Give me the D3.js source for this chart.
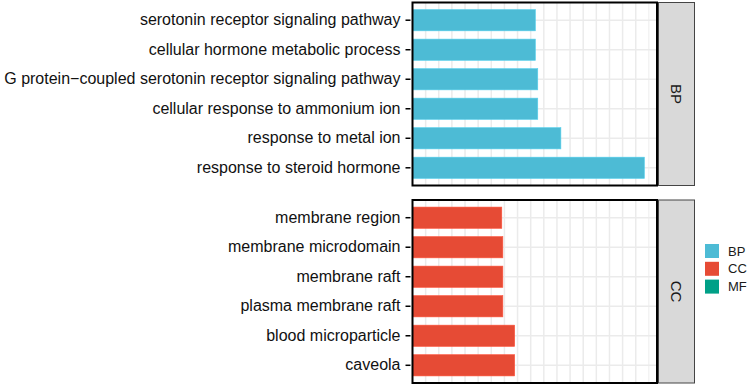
<!DOCTYPE html>
<html>
<head>
<meta charset="utf-8">
<script src="https://cdn.jsdelivr.net/npm/d3@7"></script>
<style>
  body { margin: 0; background: #fff; }
  svg text { font-family: "Liberation Sans", Arial, sans-serif; }
</style>
</head>
<body>
<div id="chart"></div>
<script>
// terms, top to bottom in each facet
let bpTerms = [
    "serotonin receptor signaling pathway",
    "cellular hormone metabolic process",
    "G protein\u2212coupled serotonin receptor signaling pathway",
    "cellular response to ammonium ion",
    "response to metal ion",
    "response to steroid hormone"
];
let bpValues = [4.68, 4.68, 4.77, 4.77, 5.65, 8.83];

let ccTerms = [
    "membrane region",
    "membrane microdomain",
    "membrane raft",
    "plasma membrane raft",
    "blood microparticle",
    "caveola"
];
let ccValues = [3.40, 3.44, 3.44, 3.44, 3.89, 3.89];

let ontologies = ["BP", "CC", "MF"];
let ontologyColors = ["#4DBBD5", "#E64B35", "#00A087"];

let width = 748, height = 386;

let svg = d3.select("#chart").append("svg")
    .attr("width", width)
    .attr("height", height);

// shared x scale
let x = d3.scaleLinear().domain([0, 9.31]).range([412.5, 657]);
let color = d3.scaleOrdinal().domain(ontologies).range(ontologyColors);

let facets = [
    {name: "BP", terms: bpTerms, values: bpValues, top: 2.5, bottom: 185.5},
    {name: "CC", terms: ccTerms, values: ccValues, top: 200, bottom: 383}
];

facets.forEach(f => {
    let y = d3.scaleBand()
        .domain(f.terms)
        .range([f.top, f.bottom])
        .paddingOuter(0.1)
        .paddingInner(0);
    let g = svg.append("g");

    // vertical grid
    let grid = d3.range(0.5, 9.31, 0.5);
    g.selectAll(".vgrid")
        .data(grid)
        .enter().append("line")
        .attr("x1", d => x(d)).attr("x2", d => x(d))
        .attr("y1", f.top).attr("y2", f.bottom)
        .attr("stroke", "#EBEBEB")
        .attr("stroke-width", (d, i) => i === grid.length - 1 ? 0.9 : 1.5);

    // horizontal grid at categories
    g.selectAll(".hgrid")
        .data(f.terms)
        .enter().append("line")
        .attr("x1", x.range()[0]).attr("x2", x.range()[1])
        .attr("y1", d => y(d) + y.bandwidth() / 2)
        .attr("y2", d => y(d) + y.bandwidth() / 2)
        .attr("stroke", "#EBEBEB")
        .attr("stroke-width", 1.6);

    // bars
    let bw = y.bandwidth() * 0.72;
    g.selectAll(".bar")
        .data(f.terms)
        .enter().append("rect")
        .attr("x", x(0))
        .attr("y", d => y(d) + (y.bandwidth() - bw) / 2)
        .attr("width", (d, i) => x(f.values[i]) - x(0))
        .attr("height", bw)
        .attr("fill", color(f.name))
        .attr("stroke", d3.color(color(f.name)).brighter(0.3))
        .attr("stroke-width", 0.6);

    // panel border
    g.append("rect")
        .attr("x", x.range()[0]).attr("y", f.top)
        .attr("width", x.range()[1] - x.range()[0])
        .attr("height", f.bottom - f.top)
        .attr("fill", "none")
        .attr("stroke", "#000")
        .attr("stroke-width", 2);

    // y axis
    let yAxis = g.append("g")
        .attr("transform", "translate(" + (x.range()[0] - 2) + ",0)")
        .call(d3.axisLeft(y).tickSize(5).tickPadding(5));
    yAxis.select(".domain").remove();
    yAxis.selectAll(".tick line").attr("stroke", "#000").attr("stroke-width", 1.5);
    yAxis.selectAll(".tick text")
        .attr("fill", "#111")
        .attr("font-size", "16px")
        .attr("font-family", "'Liberation Sans', Arial, sans-serif");

    // strip
    g.append("rect")
        .attr("x", 658.5).attr("y", f.top)
        .attr("width", 36)
        .attr("height", f.bottom - f.top)
        .attr("fill", "#D9D9D9")
        .attr("stroke", "#444")
        .attr("stroke-width", 1);
    g.append("text")
        .attr("transform", "translate(" + 676.5 + "," + ((f.top + f.bottom) / 2) + ") rotate(90)")
        .attr("text-anchor", "middle")
        .attr("dy", "0.35em")
        .attr("font-size", "15px")
        .attr("fill", "#1A1A1A")
        .text(f.name);
});

// legend
let legend = svg.append("g").attr("transform", "translate(705,244)");
let items = legend.selectAll(".item")
    .data(ontologies)
    .enter().append("g")
    .attr("transform", (d, i) => "translate(0," + i * 17.8 + ")");
items.append("rect")
    .attr("width", 14).attr("height", 14)
    .attr("fill", d => color(d));
items.append("text")
    .attr("x", 23).attr("y", 7)
    .attr("dy", "0.35em")
    .attr("font-size", "13px")
    .attr("fill", "#1A1A1A")
    .text(d => d);
</script>
</body>
</html>
